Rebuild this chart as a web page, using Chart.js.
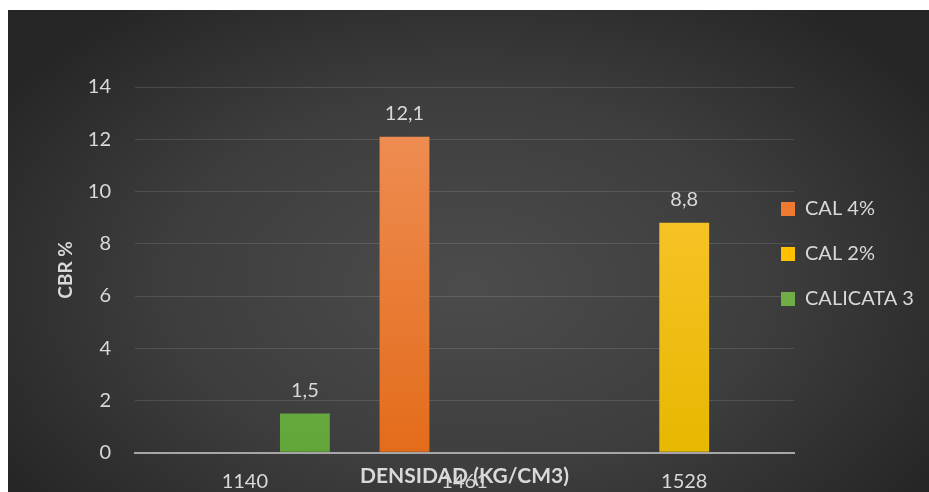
<!DOCTYPE html>
<html lang="es">
<head>
    <meta charset="UTF-8">
    <title>CBR vs densidad</title>
    <script src="https://cdn.jsdelivr.net/npm/chart.js@4.4.2/dist/chart.umd.min.js"></script>
    <style>
        html, body { margin: 0; padding: 0; background: #fff; overflow: hidden; }
        #wrap {
            position: absolute; left: 8px; top: 10px; width: 921px; height: 500px;
            background: radial-gradient(ellipse 60% 70% at 50% 55%, #4c4c4c 0%, #3d3d3d 55%, #262626 100%);
        }
    </style>
</head>
<body>
<div id="wrap"><canvas id="cbrchart"></canvas></div>

<script>
    var labels = ['1140', '1461', '1528'];
    var cal4 = [null, 12.1, null];
    var cal2 = [null, null, 8.8];
    var calicata3 = [1.5, null, null];

    const txt = '#d9d9d9';
    const font = 'Lato, "Open Sans", sans-serif';

    function grad(top, bottom) {
        return function (c) {
            const area = c.chart.chartArea;
            if (!area) return bottom;
            const g = c.chart.ctx.createLinearGradient(0, area.top, 0, area.bottom);
            g.addColorStop(0, top);
            g.addColorStop(1, bottom);
            return g;
        };
    }

    // value labels over the bars, with comma decimals
    const barLabels = {
        id: 'barLabels',
        afterDatasetsDraw(chart) {
            const ctx = chart.ctx;
            ctx.save();
            ctx.font = '20px ' + font;
            ctx.fillStyle = txt;
            ctx.textAlign = 'center';
            ctx.textBaseline = 'alphabetic';
            chart.data.datasets.forEach((ds, i) => {
                chart.getDatasetMeta(i).data.forEach((bar, j) => {
                    const v = ds.data[j];
                    if (v === null) return;
                    ctx.fillText(String(v).replace('.', ','), bar.x, bar.y - 17);
                });
            });
            ctx.restore();
        }
    };

    // move legend a bit into the plot side like the original
    const legendShift = {
        id: 'legendShift',
        afterLayout(chart) {
            const l = chart.legend;
            const dx = l.left - 748;
            l.left -= dx; l.right -= dx;
            l.top -= 16; l.bottom -= 16;
        }
    };

    new Chart(document.getElementById('cbrchart'), {
        type: 'bar',
        data: {
            labels: labels,
            datasets: [{
                label: 'CAL 4%',
                data: cal4,
                backgroundColor: grad('#f0915a', '#e36c1a')
            }, {
                label: 'CAL 2%',
                data: cal2,
                backgroundColor: grad('#ffc93c', '#e6b800')
            }, {
                label: 'CALICATA 3',
                data: calicata3,
                backgroundColor: grad('#80be5f', '#62a63a')
            }]
        },
        options: {
            responsive: true,
            maintainAspectRatio: false,
            animation: false,
            categoryPercentage: 0.82,
            barPercentage: 0.83,
            layout: { padding: { top: 77, left: 42, right: -33, bottom: 2 } },
            plugins: {
                tooltip: { enabled: false },
                legend: {
                    position: 'right',
                    fullSize: false,
                    labels: {
                        color: txt,
                        boxWidth: 14,
                        boxHeight: 14,
                        padding: 25,
                        font: { family: font, size: 20 },
                        generateLabels(chart) {
                            const cols = ['#f07a30', '#ffc000', '#70ad47'];
                            return chart.data.datasets.map((d, i) => ({
                                text: d.label, fillStyle: cols[i], strokeStyle: cols[i],
                                lineWidth: 0, datasetIndex: i, fontColor: txt
                            }));
                        }
                    }
                }
            },
            scales: {
                x: {
                    grid: { display: false, drawTicks: false },
                    border: { display: true, color: '#a6a6a6', width: 2 },
                    ticks: { color: txt, padding: 17, font: { family: font, size: 20 } },
                    title: {
                        display: true,
                        text: 'DENSIDAD (KG/CM3)',
                        color: txt,
                        font: { family: font, size: 21, weight: 'bold' },
                        padding: { top: -47, bottom: 19 }
                    }
                },
                y: {
                    min: 0,
                    max: 14,
                    ticks: { stepSize: 2, color: txt, padding: 24, font: { family: font, size: 20 } },
                    grid: {
                        drawTicks: false,
                        color: c => c.tick.value === 0 ? '#a6a6a6' : 'rgba(255,255,255,0.12)',
                        lineWidth: c => c.tick.value === 0 ? 2 : 1
                    },
                    border: { display: false },
                    title: {
                        display: true,
                        text: 'CBR %',
                        color: txt,
                        font: { family: font, size: 19, weight: 'bold' },
                        padding: { top: 4, bottom: -13 }
                    }
                }
            }
        },
        plugins: [barLabels, legendShift]
    });
</script>
</body>
</html>
